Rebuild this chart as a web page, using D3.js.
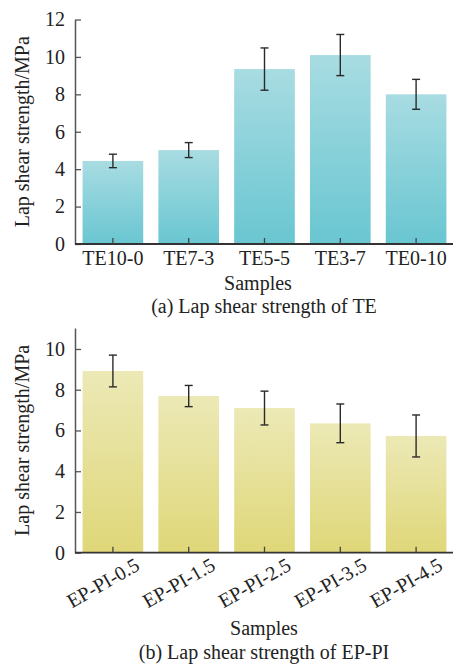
<!DOCTYPE html>
<html lang="en">
<head>
<meta charset="UTF-8">
<title>Lap shear strength</title>
<script src="https://cdn.jsdelivr.net/npm/d3@7"></script>
<style>
  body { margin: 0; background: #fff; }
  text { font-family: "Liberation Serif", "Times New Roman", serif; fill: #222; }
</style>
</head>
<body>
<script>
// (a) TE samples
var teNames = ['TE10-0', 'TE7-3', 'TE5-5', 'TE3-7', 'TE0-10'];
var teMean  = [4.44, 5.02, 9.35, 10.1, 8.0];
var teErr   = [0.36, 0.40, 1.13, 1.10, 0.80];
var teTicks = [0, 2, 4, 6, 8, 10, 12];

// (b) EP-PI samples
var epNames = ['EP-PI-0.5', 'EP-PI-1.5', 'EP-PI-2.5', 'EP-PI-3.5', 'EP-PI-4.5'];
var epMean  = [8.92, 7.69, 7.10, 6.35, 5.73];
var epErr   = [0.78, 0.52, 0.83, 0.95, 1.03];
var epTicks = [0, 2, 4, 6, 8, 10];

var FONT = 'Liberation Serif, Times New Roman, serif';

var svg = d3.select('body').append('svg')
  .attr('width', 453)
  .attr('height', 666);

var defs = svg.append('defs');
function grad(id, c1, c2) {
  var g = defs.append('linearGradient').attr('id', id)
    .attr('x1', 0).attr('y1', 0).attr('x2', 0).attr('y2', 1);
  g.append('stop').attr('offset', '0%').attr('stop-color', c1);
  g.append('stop').attr('offset', '100%').attr('stop-color', c2);
}
grad('gTeal', '#a8dce2', '#69c6d1');
grad('gYel', '#ece9b6', '#dfd778');

function panel(o) {
  var g = svg.append('g');
  var x = d3.scaleBand().domain(o.names).range([75, 454]).paddingInner(0.2).paddingOuter(0.1);
  var y = d3.scaleLinear().domain([0, o.max]).range([o.bottom, o.top]);

  // bars
  g.selectAll('rect.bar').data(o.mean).enter().append('rect')
    .attr('class', 'bar')
    .attr('x', function(d, i) { return x(o.names[i]); })
    .attr('width', x.bandwidth())
    .attr('y', function(d) { return y(d); })
    .attr('height', function(d) { return y(0) - y(d); })
    .attr('fill', 'url(#' + o.fill + ')');

  // error bars
  var eb = g.selectAll('g.err').data(o.mean).enter().append('g')
    .attr('class', 'err')
    .attr('stroke', '#2a2a2a').attr('stroke-width', 1.4);
  eb.append('line')
    .attr('x1', function(d, i) { return x(o.names[i]) + x.bandwidth() / 2; })
    .attr('x2', function(d, i) { return x(o.names[i]) + x.bandwidth() / 2; })
    .attr('y1', function(d, i) { return y(d + o.err[i]); })
    .attr('y2', function(d, i) { return y(d - o.err[i]); });
  [1, -1].forEach(function(s) {
    eb.append('line')
      .attr('x1', function(d, i) { return x(o.names[i]) + x.bandwidth() / 2 - 4; })
      .attr('x2', function(d, i) { return x(o.names[i]) + x.bandwidth() / 2 + 4; })
      .attr('y1', function(d, i) { return y(d + s * o.err[i]); })
      .attr('y2', function(d, i) { return y(d + s * o.err[i]); });
  });

  // y axis
  var ya = g.append('g').attr('transform', 'translate(75,0)')
    .call(d3.axisLeft(y).tickValues(o.ticks).tickSizeInner(-6).tickSizeOuter(0).tickPadding(10));
  ya.attr('font-family', FONT).attr('font-size', 20);
  ya.select('.domain').attr('stroke', '#555').attr('stroke-width', 1.5);
  ya.selectAll('.tick line').attr('stroke', '#555').attr('stroke-width', 1.3);
  ya.selectAll('.tick text').attr('fill', '#222');

  // x axis
  var xa = g.append('g').attr('transform', 'translate(0,' + o.bottom + ')')
    .call(d3.axisBottom(x).tickSizeInner(-6).tickSizeOuter(0).tickPadding(7));
  xa.attr('font-family', FONT).attr('font-size', 20);
  xa.select('.domain').attr('stroke', '#333').attr('stroke-width', 1.8)
    .attr('d', 'M75,0H454');
  xa.selectAll('.tick line').attr('stroke', '#444').attr('stroke-width', 1.3);
  xa.selectAll('.tick text').attr('fill', '#222');
  if (o.rotate) {
    xa.selectAll('.tick text')
      .attr('text-anchor', 'middle')
      .attr('x', 0).attr('y', 0)
      .attr('dy', '0.35em')
      .attr('transform', 'translate(-10,30) rotate(-30)');
  }

  // y label
  g.append('text')
    .attr('transform', 'translate(29,' + ((o.top + o.bottom) / 2) + ') rotate(-90)')
    .attr('text-anchor', 'middle')
    .attr('font-size', 20)
    .text('Lap shear strength/MPa');

  g.append('text').attr('x', o.samplesX).attr('y', o.samplesY)
    .attr('text-anchor', 'middle').attr('font-size', 20).text('Samples');
  g.append('text').attr('x', 264).attr('y', o.titleY)
    .attr('text-anchor', 'middle').attr('font-size', 20).text(o.title);
}

panel({ names: teNames, mean: teMean, err: teErr, ticks: teTicks, max: 12,
        top: 19.5, bottom: 244, fill: 'gTeal', rotate: false,
        samplesX: 258, samplesY: 290, titleY: 313,
        title: '(a) Lap shear strength of TE' });

panel({ names: epNames, mean: epMean, err: epErr, ticks: epTicks, max: 11.03,
        top: 328, bottom: 552.7, fill: 'gYel', rotate: true,
        samplesX: 264, samplesY: 635, titleY: 659,
        title: '(b) Lap shear strength of EP-PI' });
</script>
</body>
</html>
